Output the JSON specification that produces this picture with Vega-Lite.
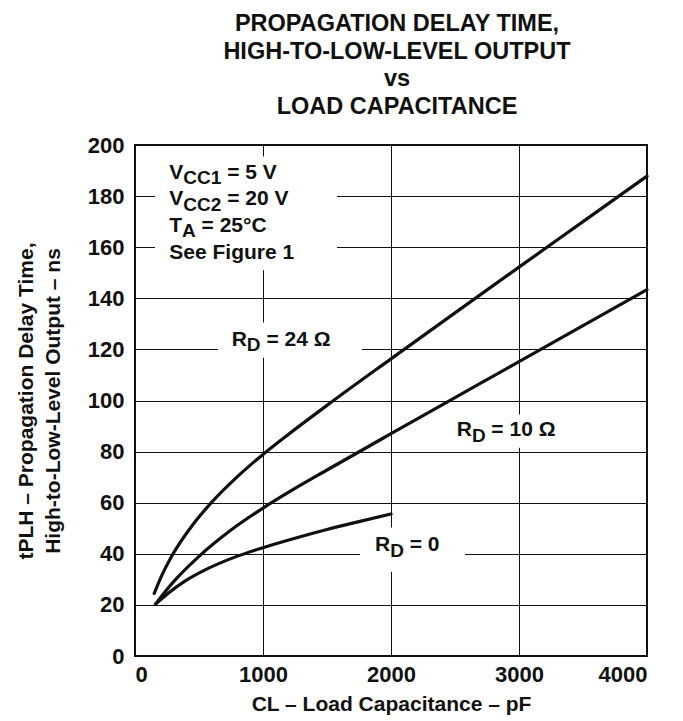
{
  "$schema": "https://vega.github.io/schema/vega-lite/v6.json",
  "width": 512,
  "height": 511,
  "autosize": {"type": "none"},
  "padding": {"left": 135, "top": 145, "right": 36, "bottom": 65},
  "background": "white",
  "config": {
    "font": "Liberation Sans",
    "view": {"stroke": "#111111", "strokeWidth": 2}
  },
  "title": {
    "text": ["PROPAGATION DELAY TIME,", "HIGH-TO-LOW-LEVEL OUTPUT", "vs", "LOAD CAPACITANCE"],
    "fontSize": 23.5,
    "fontWeight": "bold",
    "lineHeight": 27.5,
    "anchor": "middle",
    "dx": 6,
    "offset": 16,
    "color": "#111111"
  },
  "datasets": {
    "curves": [
      {"rd": "24", "C": 150, "t": 24.5},
      {"rd": "24", "C": 200, "t": 30.5},
      {"rd": "24", "C": 300, "t": 40.2},
      {"rd": "24", "C": 450, "t": 51.3},
      {"rd": "24", "C": 600, "t": 60.2},
      {"rd": "24", "C": 800, "t": 70.2},
      {"rd": "24", "C": 1000, "t": 78.9},
      {"rd": "24", "C": 1200, "t": 86.8},
      {"rd": "24", "C": 1500, "t": 98.1},
      {"rd": "24", "C": 2000, "t": 116.3},
      {"rd": "24", "C": 2500, "t": 134.3},
      {"rd": "24", "C": 3000, "t": 152.2},
      {"rd": "24", "C": 3500, "t": 170},
      {"rd": "24", "C": 4000, "t": 187.8},
      {"rd": "10", "C": 160, "t": 20.3},
      {"rd": "10", "C": 300, "t": 29},
      {"rd": "10", "C": 500, "t": 39},
      {"rd": "10", "C": 750, "t": 49.3},
      {"rd": "10", "C": 1000, "t": 57.9},
      {"rd": "10", "C": 1250, "t": 65.6},
      {"rd": "10", "C": 1500, "t": 72.8},
      {"rd": "10", "C": 2000, "t": 87},
      {"rd": "10", "C": 2500, "t": 101.1},
      {"rd": "10", "C": 3000, "t": 115.2},
      {"rd": "10", "C": 3500, "t": 129.3},
      {"rd": "10", "C": 4000, "t": 143.4},
      {"rd": "0", "C": 160, "t": 20.3},
      {"rd": "0", "C": 260, "t": 24.6},
      {"rd": "0", "C": 390, "t": 29.3},
      {"rd": "0", "C": 560, "t": 34},
      {"rd": "0", "C": 780, "t": 38.7},
      {"rd": "0", "C": 1000, "t": 42.4},
      {"rd": "0", "C": 1250, "t": 46.1},
      {"rd": "0", "C": 1500, "t": 49.5},
      {"rd": "0", "C": 1750, "t": 52.6},
      {"rd": "0", "C": 2000, "t": 55.6}
    ],
    "boxes": [
      {"x": 156, "x2": 1578, "y": 151, "y2": 195.5},
      {"x": 648, "x2": 1773, "y": 116.7, "y2": 130.5},
      {"x": 2460, "x2": 3310, "y": 81.5, "y2": 94.5},
      {"x": 1758, "x2": 2578, "y": 33, "y2": 50.3}
    ],
    "labels": [
      {"x": 268, "y": 186.8, "text": "V", "part": "main"},
      {"x": 377, "y": 184.6, "text": "CC1", "part": "sub"},
      {"x": 720, "y": 186.8, "text": "= 5 V", "part": "main"},
      {"x": 268, "y": 176.4, "text": "V", "part": "main"},
      {"x": 377, "y": 174.2, "text": "CC2", "part": "sub"},
      {"x": 720, "y": 176.4, "text": "= 20 V", "part": "main"},
      {"x": 268, "y": 166.0, "text": "T", "part": "main"},
      {"x": 368, "y": 163.8, "text": "A", "part": "sub"},
      {"x": 520, "y": 166.0, "text": "= 25°C", "part": "main"},
      {"x": 268, "y": 155.4, "text": "See Figure 1", "part": "main"},
      {"x": 755, "y": 121.5, "text": "R", "part": "main"},
      {"x": 874, "y": 119.3, "text": "D", "part": "sub"},
      {"x": 1027, "y": 121.5, "text": "= 24 Ω", "part": "main"},
      {"x": 2513, "y": 86.0, "text": "R", "part": "main"},
      {"x": 2632, "y": 83.8, "text": "D", "part": "sub"},
      {"x": 2784, "y": 86.0, "text": "= 10 Ω", "part": "main"},
      {"x": 1875, "y": 41.0, "text": "R", "part": "main"},
      {"x": 1994, "y": 38.8, "text": "D", "part": "sub"},
      {"x": 2146, "y": 41.0, "text": "= 0", "part": "main"}
    ]
  },
  "layer": [
    {
      "data": {"name": "boxes"},
      "mark": {"type": "rect", "fill": "white", "stroke": null},
      "encoding": {
        "x": {"field": "x", "type": "quantitative", "scale": {"domain": [0, 4000], "nice": false}},
        "x2": {"field": "x2"},
        "y": {"field": "y", "type": "quantitative", "scale": {"domain": [0, 200], "nice": false}},
        "y2": {"field": "y2"}
      }
    },
    {
      "data": {"name": "curves"},
      "mark": {"type": "line", "interpolate": "monotone", "color": "#111111", "strokeWidth": 3.2, "strokeCap": "round"},
      "encoding": {
        "x": {
          "field": "C", "type": "quantitative",
          "scale": {"domain": [0, 4000], "nice": false},
          "axis": {
            "values": [0, 1000, 2000, 3000, 4000],
            "format": "d",
            "grid": true, "gridColor": "#111111", "gridOpacity": 1, "gridWidth": 1,
            "domain": false, "ticks": false,
            "labelFontSize": 22, "labelFontWeight": "bold", "labelColor": "#111111", "labelPadding": 8,
            "title": "CL – Load Capacitance – pF",
            "titleFontSize": 21, "titleFontWeight": "bold", "titleColor": "#111111", "titlePadding": 8
          }
        },
        "y": {
          "field": "t", "type": "quantitative",
          "scale": {"domain": [0, 200], "nice": false},
          "axis": {
            "values": [0, 20, 40, 60, 80, 100, 120, 140, 160, 180, 200],
            "format": "d",
            "grid": true, "gridColor": "#111111", "gridOpacity": 1, "gridWidth": 1,
            "domain": false, "ticks": false,
            "labelFontSize": 22, "labelFontWeight": "bold", "labelColor": "#111111", "labelPadding": 11,
            "title": ["tPLH – Propagation Delay Time,", "High-to-Low-Level Output – ns"],
            "titleFontSize": 21, "titleFontWeight": "bold", "titleColor": "#111111",
            "titleLineHeight": 27, "titlePadding": 24
          }
        },
        "detail": {"field": "rd", "type": "nominal"}
      }
    },
    {
      "data": {"name": "labels"},
      "transform": [{"filter": "datum.part == 'main'"}],
      "mark": {"type": "text", "align": "left", "baseline": "alphabetic", "fontSize": 21, "fontWeight": "bold", "color": "#111111"},
      "encoding": {
        "x": {"field": "x", "type": "quantitative"},
        "y": {"field": "y", "type": "quantitative"},
        "text": {"field": "text"}
      }
    },
    {
      "data": {"name": "labels"},
      "transform": [{"filter": "datum.part == 'sub'"}],
      "mark": {"type": "text", "align": "left", "baseline": "alphabetic", "fontSize": 19, "fontWeight": "bold", "color": "#111111"},
      "encoding": {
        "x": {"field": "x", "type": "quantitative"},
        "y": {"field": "y", "type": "quantitative"},
        "text": {"field": "text"}
      }
    }
  ]
}
